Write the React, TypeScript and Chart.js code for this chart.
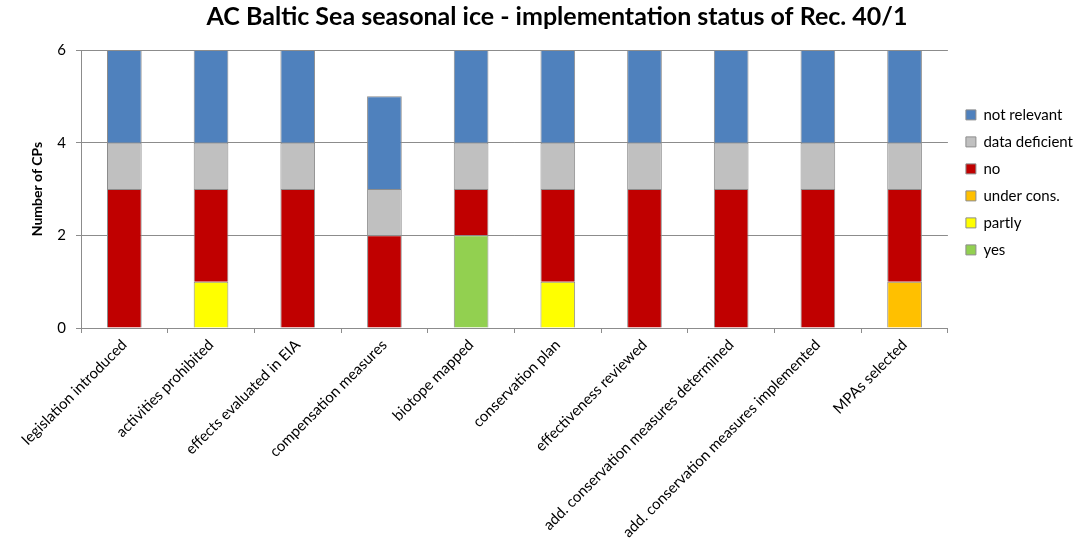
import React, { useEffect, useRef } from "react";
import { Chart, registerables } from "chart.js";

Chart.register(...registerables);

const titleText = "AC Baltic Sea seasonal ice - implementation status of Rec. 40/1";
const yAxisTitle = "Number of CPs";

const categories = [
  "legislation introduced",
  "activities prohibited",
  "effects evaluated in EIA",
  "compensation measures",
  "biotope mapped",
  "conservation plan",
  "effectiveness reviewed",
  "add. conservation measures determined",
  "add. conservation measures implemented",
  "MPAs selected",
];

const yesValues = [0, 0, 0, 0, 2, 0, 0, 0, 0, 0];
const partlyValues = [0, 1, 0, 0, 0, 1, 0, 0, 0, 0];
const underConsValues = [0, 0, 0, 0, 0, 0, 0, 0, 0, 1];
const noValues = [3, 2, 3, 2, 1, 2, 3, 3, 3, 2];
const dataDeficientValues = [1, 1, 1, 1, 1, 1, 1, 1, 1, 1];
const notRelevantValues = [2, 2, 2, 2, 2, 2, 2, 2, 2, 2];

const seriesNames = ["yes", "partly", "under cons.", "no", "data deficient", "not relevant"];
const seriesColors = ["#92D050", "#FFFF00", "#FFC000", "#C00000", "#C0C0C0", "#4F81BD"];
const seriesValues = [yesValues, partlyValues, underConsValues, noValues, dataDeficientValues, notRelevantValues];

const FONT = "Lato, 'Open Sans', sans-serif";

const titlePlugin = {
  id: "customTitle",
  afterDraw(chart: any) {
    const ctx = chart.ctx;
    ctx.save();
    ctx.font = `bold 25px ${FONT}`;
    ctx.fillStyle = "#000";
    ctx.textAlign = "center";
    ctx.textBaseline = "middle";
    ctx.fillText(titleText, 557, 17);
    ctx.restore();
  },
};

export default function App() {
  const ref = useRef<HTMLCanvasElement | null>(null);

  useEffect(() => {
    if (!ref.current) return;
    const chart = new Chart(ref.current, {
      type: "bar",
      data: {
        labels: categories,
        datasets: seriesNames.map((name, i) => ({
          label: name,
          data: seriesValues[i],
          backgroundColor: seriesColors[i],
          borderColor: "#8c8c8c",
          borderWidth: 1,
          categoryPercentage: 1,
          barPercentage: 0.4,
        })),
      },
      options: {
        animation: false,
        responsive: true,
        maintainAspectRatio: false,
        layout: { padding: { top: 50, left: 0, right: 0, bottom: 0 } },
        plugins: {
          legend: {
            position: "right",
            reverse: true,
            align: "start",
            title: {
              display: true,
              text: " ",
              font: { family: FONT, size: 12 },
              padding: { top: 0, bottom: 31 },
            },
            labels: {
              boxWidth: 10,
              boxHeight: 10,
              padding: 12,
              color: "#000",
              font: { family: FONT, size: 15 },
            },
          },
          tooltip: { enabled: false },
        },
        scales: {
          x: {
            stacked: true,
            grid: {
              offset: true,
              drawOnChartArea: false,
              tickLength: 5,
              color: "#8c8c8c",
            },
            border: { color: "#8c8c8c" },
            ticks: {
              minRotation: 45,
              maxRotation: 45,
              autoSkip: false,
              padding: 3,
              color: "#000",
              font: { family: FONT, size: 15 },
            },
            afterFit: (s: any) => {
              s.height = 215;
            },
          },
          y: {
            stacked: true,
            min: 0,
            max: 6,
            ticks: {
              stepSize: 2,
              padding: 10,
              color: "#000",
              font: { family: FONT, size: 15 },
            },
            grid: { color: "#8c8c8c", tickLength: 5 },
            border: { color: "#8c8c8c" },
            title: {
              display: true,
              text: yAxisTitle,
              color: "#000",
              font: { family: FONT, size: 14, weight: "bold" },
              padding: { top: 29, bottom: 0 },
            },
            afterFit: (s: any) => {
              s.width = 81;
            },
          },
          spacer: {
            type: "linear",
            position: "right",
            display: true,
            grid: { display: false },
            border: { display: false },
            ticks: { display: false },
            afterFit: (s: any) => {
              s.width = 6;
            },
          },
        },
      } as any,
      plugins: [titlePlugin],
    });
    return () => chart.destroy();
  }, []);

  return (
    <div style={{ position: "fixed", left: 0, top: 0, width: 1083, height: 543, background: "#fff" }}>
      <canvas ref={ref} />
    </div>
  );
}
